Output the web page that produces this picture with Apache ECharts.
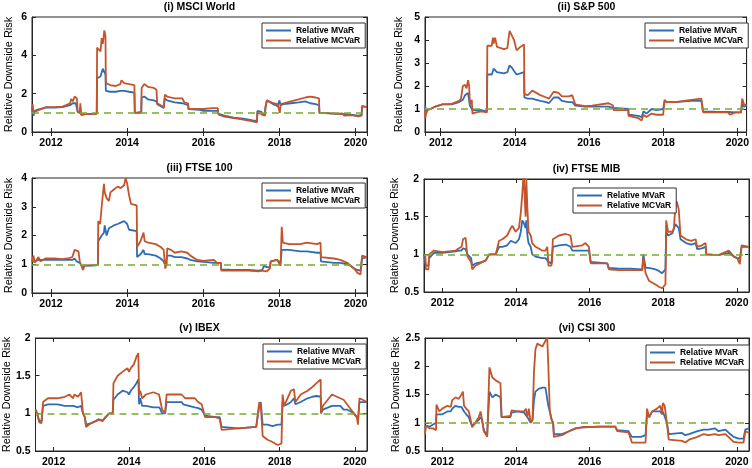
<!DOCTYPE html>
<html><head><meta charset="utf-8">
<script src="https://cdn.jsdelivr.net/npm/echarts@6/dist/echarts.min.js"></script>
<style>html,body{margin:0;padding:0;background:#fff}#c{width:752px;height:468px}</style>
</head><body><div id="c"></div>
<script>
// ---------- data (decimal years, relative risk) ----------
const titles = ['(i) MSCI World', '(ii) S&P 500', '(iii) FTSE 100', '(iv) FTSE MIB', '(v) IBEX', '(vi) CSI 300'];
const seriesNames = ['Relative MVaR', 'Relative MCVaR'];
const refLevel = 1;

const msciT = [2011.50,2011.52,2011.54,2011.56,2011.62,2011.75,2011.88,2012.10,2012.30,2012.40,2012.50,2012.53,2012.57,2012.62,2012.65,2012.68,2012.70,2012.76,2012.77,2012.79,2012.95,2012.97,2013.00,2013.20,2013.21,2013.26,2013.30,2013.33,2013.36,2013.40,2013.43,2013.44,2013.55,2013.70,2013.82,2013.85,2013.92,2014.05,2014.19,2014.20,2014.37,2014.38,2014.45,2014.55,2014.70,2014.77,2014.79,2014.88,2014.96,2014.99,2015.05,2015.15,2015.25,2015.30,2015.45,2015.50,2015.60,2015.61,2015.90,2016.00,2016.25,2016.38,2016.40,2016.55,2016.57,2016.80,2017.05,2017.30,2017.41,2017.42,2017.53,2017.54,2017.62,2017.63,2017.67,2017.72,2017.84,2017.95,2018.00,2018.01,2018.03,2018.11,2018.30,2018.50,2018.68,2018.81,2018.95,2019.04,2019.05,2019.30,2019.50,2019.65,2019.70,2019.87,2020.08,2020.16,2020.17,2020.22,2020.30];
const msciMVaR = [1.25,1.15,0.85,1.05,1.1,1.2,1.28,1.27,1.3,1.35,1.4,1.45,1.5,1.55,1.5,1.5,1.05,1.0,1.3,0.9,0.95,1.0,0.95,0.95,2.8,2.85,2.9,3.1,3.3,3.2,3.0,2.15,2.1,2.1,2.15,2.25,2.15,2.1,2.05,1.0,1.0,1.8,1.85,1.7,1.65,1.6,1.45,1.35,1.25,1.75,1.65,1.6,1.55,1.55,1.5,1.4,1.4,1.2,1.15,1.1,1.1,1.1,0.95,0.85,0.8,0.75,0.7,0.6,0.58,1.1,1.05,0.9,0.9,1.3,1.65,1.55,1.45,1.35,1.65,1.6,1.4,1.45,1.5,1.55,1.6,1.5,1.45,1.4,1.0,0.97,0.95,0.95,0.88,0.9,0.85,0.9,1.35,1.25,1.3];
const msciMCVaR = [1.25,1.45,0.95,1.1,1.15,1.22,1.3,1.3,1.32,1.4,1.5,1.72,1.6,1.85,1.92,1.75,1.05,1.0,1.5,0.9,0.95,1.0,0.95,0.95,4.4,4.3,4.2,4.9,4.6,5.3,5.0,2.55,2.45,2.4,2.5,2.7,2.55,2.5,2.45,1.0,1.05,2.3,2.5,2.35,2.3,2.2,1.5,1.4,1.3,1.95,1.85,1.8,1.75,1.8,1.75,1.55,1.5,1.2,1.2,1.2,1.25,1.25,0.9,0.8,0.75,0.72,0.65,0.55,0.5,1.0,0.95,0.85,0.85,1.2,1.65,1.6,1.5,1.45,1.4,1.0,1.45,1.5,1.6,1.7,1.8,1.85,1.8,1.75,1.0,0.98,0.95,0.97,0.85,0.88,0.82,0.85,1.35,1.3,1.3];

const spT = [2011.58,2011.59,2011.61,2011.65,2011.72,2011.85,2012.05,2012.30,2012.50,2012.55,2012.60,2012.66,2012.70,2012.74,2012.77,2012.79,2012.84,2012.86,2012.95,2013.10,2013.25,2013.26,2013.38,2013.41,2013.43,2013.47,2013.52,2013.71,2013.80,2013.86,2013.92,2013.98,2014.05,2014.15,2014.25,2014.26,2014.35,2014.47,2014.58,2014.69,2014.85,2014.92,2015.05,2015.18,2015.27,2015.45,2015.55,2015.63,2015.90,2016.08,2016.10,2016.53,2016.65,2016.66,2017.06,2017.07,2017.33,2017.42,2017.47,2017.55,2017.69,2017.82,2018.00,2018.04,2018.10,2018.32,2018.76,2019.03,2019.08,2019.40,2019.75,2019.80,2019.95,2020.10,2020.13,2020.18,2020.25];
const spMVaR = [1.15,1.1,0.95,0.95,1.0,1.1,1.2,1.2,1.3,1.35,1.4,1.6,1.55,1.7,1.65,1.15,1.2,0.95,0.95,0.95,0.9,2.5,2.5,2.55,2.75,2.7,2.6,2.55,2.6,2.9,2.8,2.65,2.5,2.55,2.6,1.5,1.45,1.45,1.4,1.35,1.3,1.25,1.5,1.5,1.35,1.3,1.3,1.15,1.1,1.1,1.1,1.1,1.05,1.0,1.0,0.75,0.7,0.65,0.9,0.8,1.0,0.95,1.0,1.35,1.3,1.3,1.35,1.35,0.9,0.88,0.87,0.8,0.85,0.85,1.2,1.1,1.15];
const spMCVaR = [1.0,0.6,0.8,0.95,1.0,1.1,1.2,1.22,1.35,1.45,2.0,2.05,1.9,2.25,2.0,1.2,1.4,0.8,0.85,0.9,0.85,3.75,3.75,4.1,3.85,4.1,3.7,3.6,3.65,4.4,4.2,4.0,3.55,3.7,3.8,1.65,1.6,1.8,1.7,1.6,1.5,1.45,1.75,1.7,1.55,1.55,1.6,1.2,1.12,1.15,1.2,1.25,1.15,0.95,0.95,0.7,0.6,0.5,0.75,0.65,0.8,0.75,0.75,1.4,1.3,1.3,1.4,1.45,0.85,0.85,0.85,0.75,0.85,0.85,1.45,1.2,1.15];

const ftseT = [2011.50,2011.54,2011.57,2011.67,2011.72,2011.85,2012.10,2012.30,2012.43,2012.56,2012.62,2012.67,2012.72,2012.76,2012.80,2012.84,2012.87,2013.10,2013.23,2013.24,2013.29,2013.33,2013.39,2013.41,2013.46,2013.52,2013.56,2013.65,2013.75,2013.83,2013.92,2013.96,2014.00,2014.05,2014.10,2014.25,2014.26,2014.35,2014.43,2014.46,2014.55,2014.75,2014.88,2014.96,2015.00,2015.04,2015.05,2015.15,2015.25,2015.42,2015.58,2015.66,2015.84,2016.00,2016.28,2016.36,2016.46,2016.47,2016.80,2017.20,2017.45,2017.55,2017.59,2017.66,2017.75,2017.77,2017.94,2018.03,2018.06,2018.09,2018.25,2018.55,2018.72,2018.99,2019.08,2019.09,2019.43,2019.60,2019.78,2019.87,2019.96,2020.05,2020.13,2020.17,2020.30];
const ftseMVaR = [1.1,1.1,1.1,1.15,1.12,1.15,1.15,1.15,1.15,1.15,1.2,1.1,1.15,1.05,0.95,0.85,0.95,0.95,0.97,1.8,1.85,2.0,2.1,2.35,2.0,2.25,2.3,2.35,2.4,2.45,2.5,2.55,2.4,2.2,2.15,2.15,1.25,1.35,1.5,1.35,1.35,1.3,1.2,1.1,0.95,1.0,1.3,1.3,1.25,1.25,1.2,1.15,1.1,1.08,1.05,1.05,1.05,0.82,0.8,0.8,0.78,0.8,0.95,0.9,0.9,1.1,1.15,1.05,1.5,1.55,1.5,1.45,1.45,1.4,1.4,1.1,1.05,1.05,1.0,0.95,0.85,0.8,0.78,1.2,1.25];
const ftseMCVaR = [1.1,1.3,1.05,1.25,1.1,1.2,1.2,1.18,1.2,1.25,1.5,1.55,1.45,1.05,0.95,0.8,0.95,0.97,0.97,2.5,2.4,3.0,3.8,3.5,3.3,3.2,3.5,3.6,3.7,3.65,3.75,4.0,3.8,3.4,3.1,3.05,1.6,1.8,2.1,1.8,1.75,1.7,1.6,1.5,0.85,1.0,1.55,1.5,1.4,1.45,1.4,1.3,1.15,1.12,1.15,1.05,1.05,0.78,0.78,0.78,0.75,0.78,0.8,0.75,0.85,1.1,1.15,0.95,2.3,1.75,1.7,1.7,1.75,1.7,1.75,1.25,1.2,1.15,1.05,0.95,0.85,0.7,0.65,1.3,1.25];

const mibT = [2011.50,2011.54,2011.55,2011.62,2011.64,2011.77,2012.00,2012.18,2012.36,2012.45,2012.52,2012.56,2012.63,2012.68,2012.78,2012.81,2012.90,2013.09,2013.18,2013.27,2013.45,2013.54,2013.63,2013.76,2013.86,2013.90,2013.99,2014.08,2014.13,2014.17,2014.21,2014.24,2014.26,2014.28,2014.31,2014.34,2014.40,2014.44,2014.53,2014.71,2014.80,2014.85,2014.88,2014.96,2014.98,2015.00,2015.17,2015.35,2015.48,2015.53,2015.80,2015.89,2015.98,2016.03,2016.48,2016.52,2016.80,2017.10,2017.43,2017.46,2017.52,2017.61,2017.79,2017.88,2017.97,2018.06,2018.08,2018.13,2018.25,2018.29,2018.33,2018.37,2018.42,2018.47,2018.62,2018.76,2018.88,2018.92,2019.05,2019.15,2019.17,2019.50,2019.78,2019.92,2020.01,2020.08,2020.13,2020.33];
const mibMVaR = [1.0,0.98,0.85,0.85,0.95,1.02,1.02,1.03,1.04,1.05,1.05,1.08,1.07,1.0,0.95,0.85,0.88,0.9,0.92,1.0,1.0,1.1,1.1,1.12,1.18,1.17,1.15,1.2,1.3,1.45,1.42,1.4,1.35,1.45,1.25,1.15,1.1,1.0,0.97,0.95,0.95,0.97,0.9,0.88,0.9,1.1,1.12,1.13,1.1,1.05,1.05,1.05,1.05,0.9,0.88,0.82,0.81,0.81,0.8,1.0,0.82,0.82,0.8,0.78,0.75,0.8,1.3,1.25,1.28,1.3,1.4,1.38,1.35,1.2,1.15,1.13,1.15,1.07,1.08,1.1,1.0,0.99,1.02,0.97,0.95,0.95,1.1,1.1];
const mibMCVaR = [1.0,0.97,0.8,0.8,1.0,1.05,1.03,1.04,1.05,1.08,1.1,1.2,1.22,0.97,0.9,0.8,0.85,0.9,0.92,1.0,1.0,1.18,1.2,1.25,1.35,1.38,1.3,1.35,1.55,1.8,2.1,1.7,1.5,2.0,1.6,1.3,1.25,1.15,1.1,1.05,1.05,1.1,0.85,0.85,0.9,1.2,1.25,1.27,1.25,1.1,1.12,1.15,1.1,0.88,0.88,0.8,0.79,0.79,0.79,0.97,0.75,0.65,0.6,0.57,0.55,0.6,1.45,1.3,1.3,1.35,1.65,1.7,1.6,1.25,1.2,1.18,1.2,1.1,1.12,1.15,1.0,0.99,1.05,0.97,0.95,0.87,1.12,1.1];

const ibexT = [2011.52,2011.56,2011.62,2011.68,2011.72,2011.85,2012.10,2012.30,2012.42,2012.52,2012.55,2012.65,2012.73,2012.78,2012.83,2012.86,2013.00,2013.13,2013.20,2013.30,2013.38,2013.48,2013.57,2013.59,2013.70,2013.83,2013.96,2014.00,2014.05,2014.13,2014.20,2014.25,2014.27,2014.30,2014.35,2014.45,2014.65,2014.80,2014.84,2014.88,2014.96,2015.00,2015.40,2015.44,2015.49,2015.75,2015.84,2015.93,2016.02,2016.30,2016.41,2016.46,2016.90,2017.38,2017.46,2017.50,2017.55,2017.68,2017.81,2017.95,2018.05,2018.08,2018.12,2018.21,2018.30,2018.38,2018.42,2018.56,2018.74,2018.87,2018.98,2019.09,2019.10,2019.15,2019.39,2019.61,2019.70,2019.79,2019.97,2020.05,2020.08,2020.12,2020.32];
const ibexMVaR = [1.05,1.0,0.9,0.9,1.1,1.12,1.12,1.1,1.1,1.1,1.1,1.08,1.1,1.0,0.95,0.85,0.87,0.9,0.92,0.9,0.95,1.0,1.0,1.18,1.25,1.3,1.28,1.25,1.3,1.35,1.4,1.45,1.12,1.2,1.1,1.1,1.08,1.08,1.05,1.0,1.0,1.15,1.15,1.12,1.12,1.08,1.07,1.05,0.97,0.95,0.95,0.82,0.8,0.82,1.1,1.15,0.85,0.85,0.83,0.85,0.85,1.15,1.1,1.12,1.15,1.2,1.12,1.15,1.2,1.22,1.23,1.22,1.0,1.05,1.1,1.1,1.05,1.05,1.0,0.95,0.92,1.15,1.15];
const ibexMCVaR = [1.05,1.0,0.88,0.87,1.15,1.2,1.2,1.22,1.25,1.2,1.25,1.22,1.28,1.0,0.95,0.82,0.87,0.9,0.92,0.9,0.95,1.0,1.0,1.4,1.5,1.55,1.6,1.55,1.6,1.65,1.75,1.8,1.25,1.3,1.2,1.25,1.28,1.25,1.15,1.05,1.0,1.25,1.25,1.27,1.2,1.2,1.15,1.12,0.95,0.95,0.93,0.78,0.8,0.82,1.15,1.1,0.7,0.65,0.62,0.58,0.6,1.25,1.1,1.2,1.3,1.32,1.15,1.25,1.3,1.35,1.4,1.45,1.0,1.1,1.25,1.2,1.18,1.12,1.0,0.95,0.85,1.2,1.15];

const csiT = [2011.53,2011.56,2011.65,2011.75,2011.83,2011.84,2011.92,2012.00,2012.14,2012.23,2012.27,2012.36,2012.44,2012.52,2012.56,2012.59,2012.65,2012.72,2012.77,2012.81,2012.86,2012.90,2012.99,2013.04,2013.08,2013.13,2013.22,2013.27,2013.28,2013.36,2013.45,2013.58,2013.61,2013.85,2013.88,2014.05,2014.22,2014.27,2014.31,2014.35,2014.40,2014.45,2014.49,2014.53,2014.58,2014.62,2014.72,2014.80,2014.85,2014.88,2014.92,2014.97,2015.01,2015.03,2015.25,2015.44,2015.62,2015.80,2016.30,2016.70,2016.75,2017.06,2017.10,2017.15,2017.40,2017.52,2017.56,2017.62,2017.70,2017.83,2017.92,2017.97,2017.99,2018.04,2018.10,2018.15,2018.51,2018.60,2018.70,2018.93,2019.10,2019.23,2019.41,2019.50,2019.69,2019.82,2019.91,2020.05,2020.18,2020.23,2020.33];
const csiMVaR = [0.9,0.95,0.93,0.97,1.0,1.15,1.15,1.15,1.2,1.2,1.25,1.3,1.28,1.28,1.25,1.2,1.15,1.1,1.0,0.95,0.95,1.0,1.05,1.1,1.05,0.85,0.8,0.8,1.55,1.45,1.5,1.45,1.1,1.1,1.18,1.2,1.18,1.2,1.1,1.1,1.0,1.05,1.4,1.55,1.58,1.6,1.62,1.62,1.65,1.3,1.2,1.05,1.0,0.8,0.8,0.85,0.9,0.92,0.93,0.93,0.87,0.85,0.8,0.75,0.75,0.78,1.15,1.1,1.2,1.2,1.2,1.15,1.2,1.2,1.0,0.8,0.82,0.78,0.8,0.85,0.88,0.88,0.9,0.85,0.88,0.8,0.75,0.72,0.72,0.88,0.9];
const csiMCVaR = [0.8,0.95,0.9,0.9,0.87,1.32,1.2,1.25,1.3,1.28,1.4,1.45,1.42,1.5,1.55,1.3,1.25,1.2,1.05,0.92,0.95,1.0,1.1,1.2,1.05,0.85,0.75,0.75,1.98,1.8,1.75,1.7,1.1,1.12,1.22,1.2,1.2,1.25,1.1,1.25,1.0,1.05,1.9,2.3,2.4,2.4,2.35,2.45,2.5,2.0,1.2,1.05,1.0,0.75,0.78,0.85,0.9,0.92,0.93,0.93,0.85,0.83,0.75,0.65,0.65,0.65,1.25,1.1,1.2,1.25,1.3,1.15,1.35,1.3,1.0,0.7,0.68,0.65,0.7,0.75,0.8,0.78,0.8,0.78,0.8,0.72,0.66,0.65,0.65,0.85,0.82];

const yMin = [0, 0, 0, 0.5, 0.5, 0.5];
const yMax = [6, 5, 4, 2, 2, 2.5];
const yStep = [2, 1, 1, 0.5, 0.5, 0.5];
const xMin = [2011.5, 2011.58, 2011.5, 2011.5, 2011.52, 2011.53];
const xMax = [2020.3, 2020.25, 2020.3, 2020.33, 2020.32, 2020.33];

const panelT = [msciT, spT, ftseT, mibT, ibexT, csiT];
const panelA = [msciMVaR, spMVaR, ftseMVaR, mibMVaR, ibexMVaR, csiMVaR];
const panelB = [msciMCVaR, spMCVaR, ftseMCVaR, mibMCVaR, ibexMCVaR, csiMCVaR];

// ---------- layout ----------
const grids = [
  {left: 32, top: 17, width: 335, height: 115},
  {left: 425, top: 17, width: 323, height: 115},
  {left: 32, top: 178, width: 335, height: 115},
  {left: 424, top: 179, width: 325, height: 113},
  {left: 32, top: 338, width: 335, height: 114},
  {left: 425, top: 338, width: 324, height: 114}
];
const legendPos = [
  {left: 262, top: 23}, {left: 645, top: 23}, {left: 262, top: 183},
  {left: 573, top: 188}, {left: 263, top: 344}, {left: 646, top: 345}
];
const nameGaps = [18, 21, 18, 20, 18, 20];

const C_BLUE = '#2E6DB4', C_ORANGE = '#C4542A', C_GREEN = '#77AC30', C_AX = '#262626';
const FONT = 'Liberation Sans, Arial, Helvetica, sans-serif';
// thin horizontal bar icon (degenerate triangles keep full box height)
const LINE_ICON = 'path://M0,0L25,0L25,0.01Z M0,3.6H25V5.4H0Z M0,9L25,9L25,9.01Z';

const option = {
  animation: false,
  backgroundColor: '#fff',
  title: [], grid: [], xAxis: [], yAxis: [], legend: [], series: []
};

for (let i = 0; i < 6; i++) {
  const g = grids[i];
  option.grid.push(Object.assign({show: true, borderColor: C_AX, borderWidth: 1, backgroundColor: '#fff', containLabel: false}, g));
  option.title.push({
    text: titles[i], left: g.left + g.width / 2, top: g.top - 16, textAlign: 'center', padding: 0,
    textStyle: {fontFamily: FONT, fontSize: 10.5, fontWeight: 'bold', color: '#000', lineHeight: 12}
  });
  const tick = {show: true, inside: true, length: 4, lineStyle: {color: C_AX, width: 1}};
  option.xAxis.push({
    type: 'value', gridIndex: i, min: xMin[i], max: xMax[i], splitNumber: 5, position: 'bottom',
    axisLine: {show: true, lineStyle: {color: C_AX, width: 1}}, axisTick: tick, splitLine: {show: false},
    axisLabel: {show: true, showMinLabel: false, showMaxLabel: false, margin: 6, color: '#000', fontFamily: FONT, fontSize: 10.5, fontWeight: 'bold',
      formatter: v => (Math.abs(v - Math.round(v)) < 1e-6 ? String(Math.round(v)) : '')}
  });
  option.xAxis.push({
    type: 'value', gridIndex: i, min: xMin[i], max: xMax[i], splitNumber: 5, position: 'top',
    axisLine: {show: true, lineStyle: {color: C_AX, width: 1}}, axisTick: tick, splitLine: {show: false}, axisLabel: {show: false}
  });
  option.yAxis.push({
    type: 'value', gridIndex: i, min: yMin[i], max: yMax[i], interval: yStep[i], position: 'left',
    name: 'Relative Downside Risk', nameLocation: 'middle', nameGap: nameGaps[i],
    nameTextStyle: {fontFamily: FONT, fontSize: 11, color: '#000'},
    axisLine: {show: true, lineStyle: {color: C_AX, width: 1}}, axisTick: tick, splitLine: {show: false},
    axisLabel: {margin: 5, color: '#000', fontFamily: FONT, fontSize: 10.5, fontWeight: 'bold'}
  });
  option.yAxis.push({
    type: 'value', gridIndex: i, min: yMin[i], max: yMax[i], interval: yStep[i], position: 'right',
    axisLine: {show: true, lineStyle: {color: C_AX, width: 1}}, axisTick: tick, splitLine: {show: false}, axisLabel: {show: false}
  });
  option.legend.push(Object.assign({
    orient: 'vertical', data: seriesNames.map(n => ({name: n, icon: LINE_ICON})),
    padding: [3, 5, 3, 4], itemGap: 1, itemWidth: 25, itemHeight: 9,
    backgroundColor: '#fff', borderColor: '#333', borderWidth: 1, borderRadius: 0, selectedMode: false,
    textStyle: {fontFamily: FONT, fontSize: 8.5, fontWeight: 'bold', color: '#000', lineHeight: 9}
  }, legendPos[i]));
  const t = panelT[i];
  option.series.push({
    name: seriesNames[0], type: 'line', xAxisIndex: 2 * i, yAxisIndex: 2 * i, showSymbol: false, symbol: 'none',
    data: t.map((x, k) => [x, panelA[i][k]]), lineStyle: {color: C_BLUE, width: 1.8}, itemStyle: {color: C_BLUE}, z: 2, clip: true
  });
  option.series.push({
    name: seriesNames[1], type: 'line', xAxisIndex: 2 * i, yAxisIndex: 2 * i, showSymbol: false, symbol: 'none',
    data: t.map((x, k) => [x, panelB[i][k]]), lineStyle: {color: C_ORANGE, width: 1.8}, itemStyle: {color: C_ORANGE}, z: 3, clip: true,
    markLine: {silent: true, symbol: ['none', 'none'], label: {show: false}, animation: false,
      lineStyle: {color: C_GREEN, type: [7, 5], width: 1.5}, data: [{yAxis: refLevel}]}
  });
}

const chart = echarts.init(document.getElementById('c'), null, {renderer: 'canvas'});
chart.setOption(option);
</script>
</body></html>
